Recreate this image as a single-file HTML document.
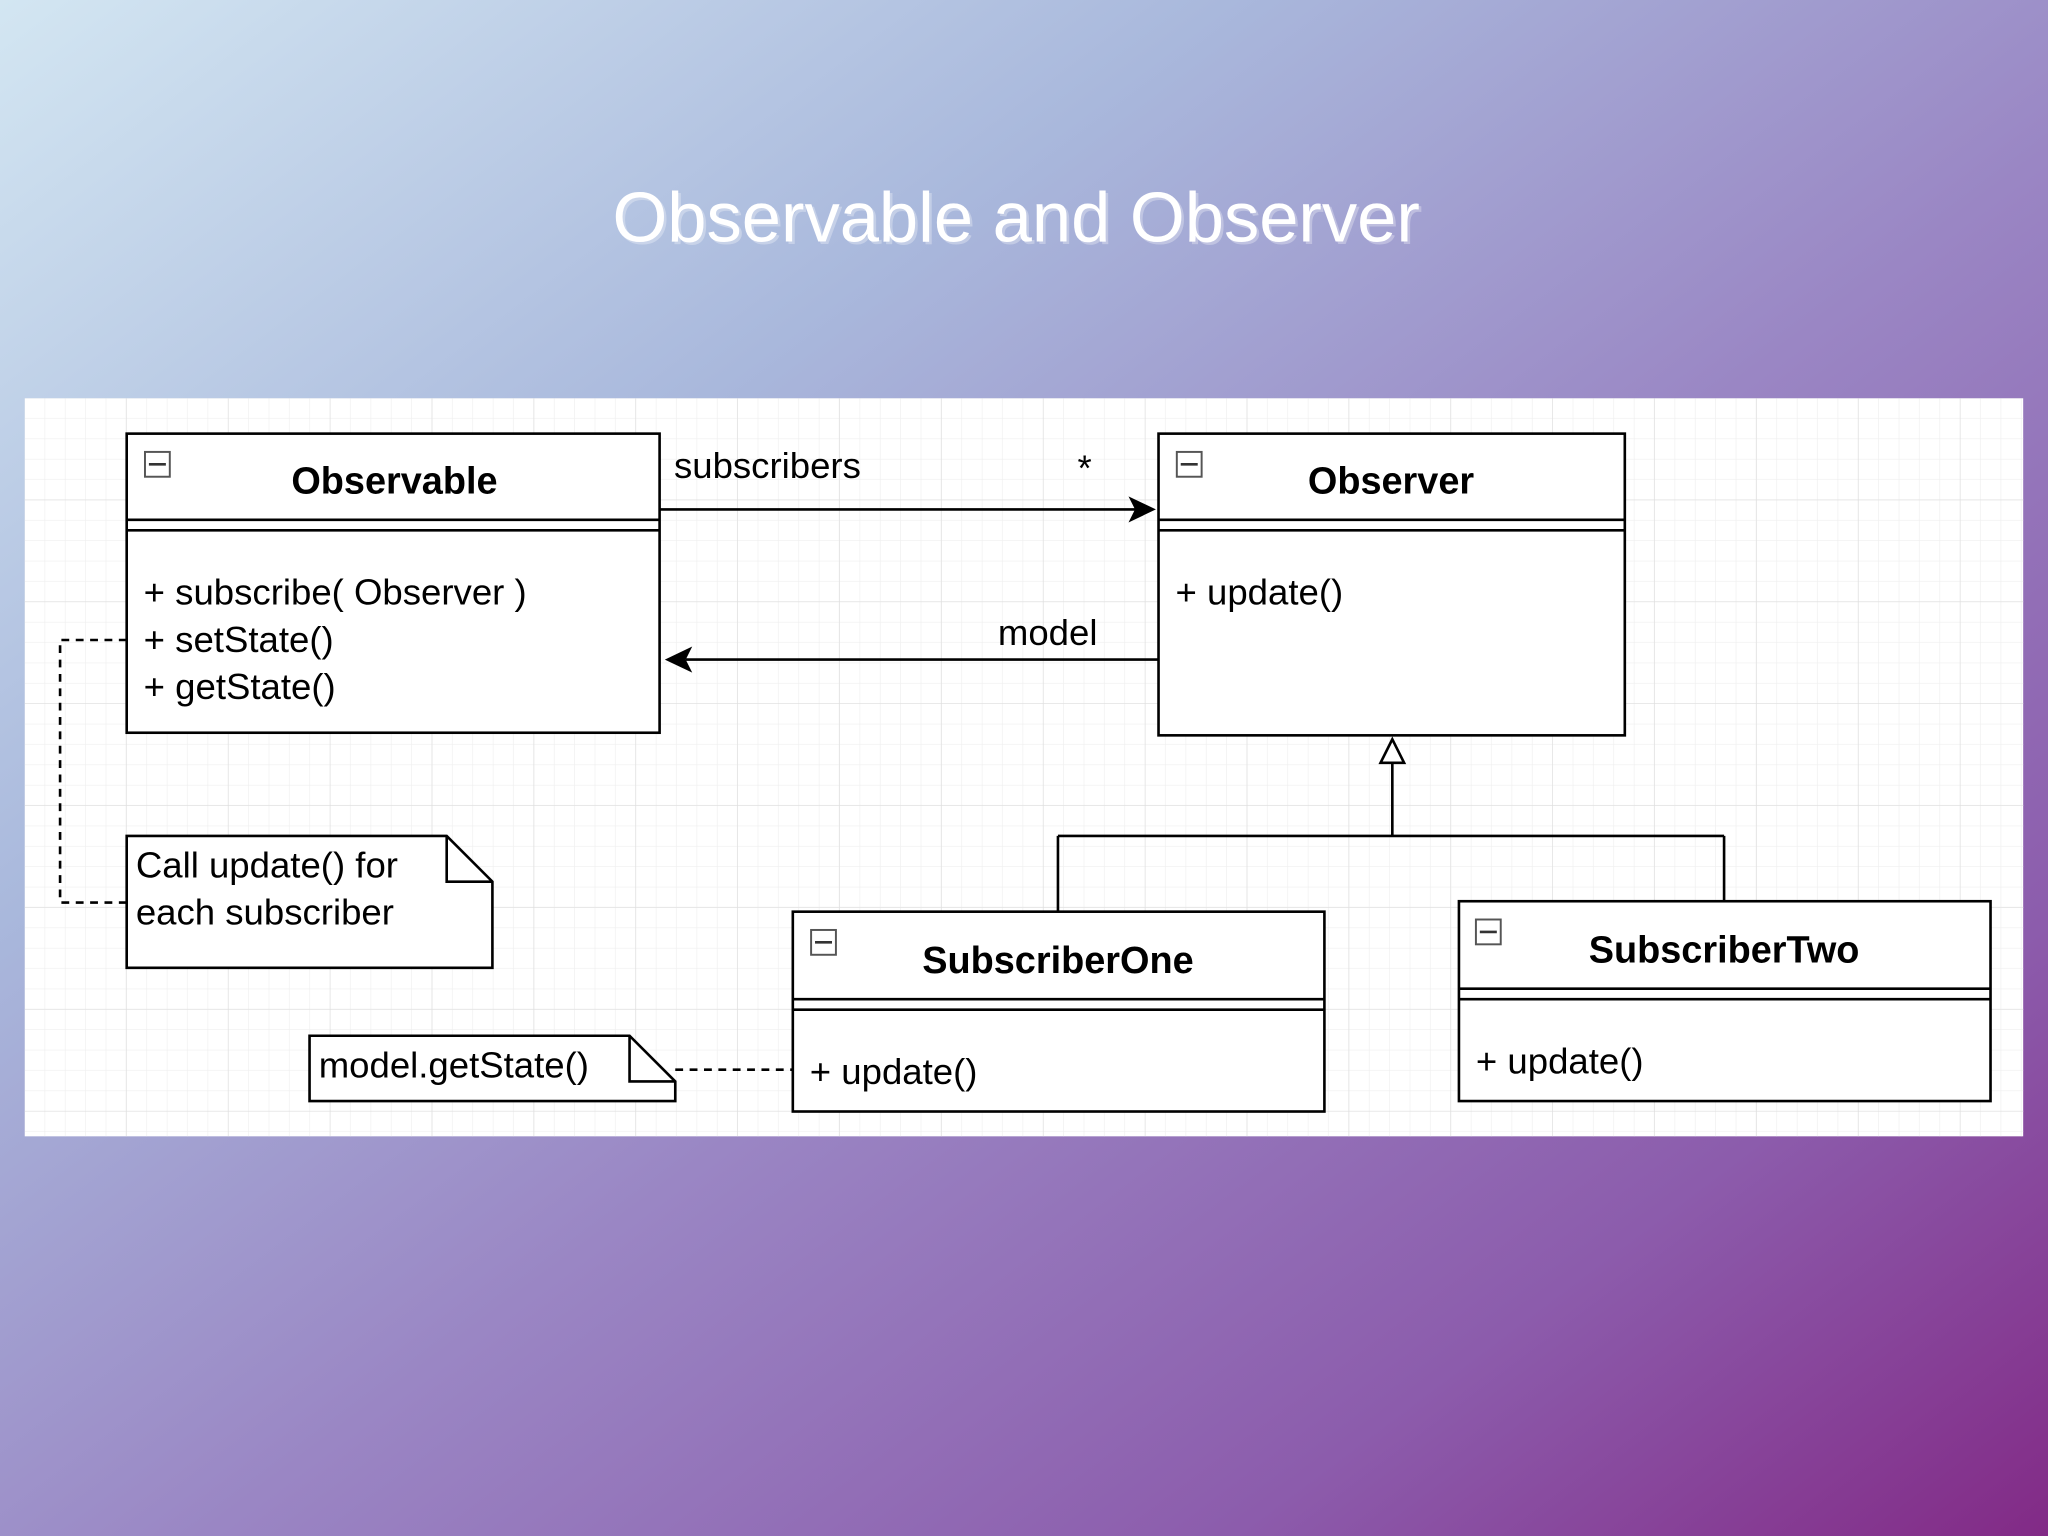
<!DOCTYPE html>
<html><head><meta charset="utf-8"><style>
html,body{margin:0;padding:0;width:2048px;height:1536px;overflow:hidden}
svg{display:block}
text{font-family:"Liberation Sans",Arial,sans-serif;fill:#000}
</style></head><body>
<svg width="2048" height="1536" viewBox="0 0 1568 1176" xmlns="http://www.w3.org/2000/svg">
<defs>
<linearGradient id="bg" x1="0" y1="0" x2="1" y2="1">
<stop offset="0" stop-color="#d3e6f2"/>
<stop offset="0.3" stop-color="#a9b8dc"/>
<stop offset="0.55" stop-color="#9a86c4"/>
<stop offset="0.8" stop-color="#8c5cac"/>
<stop offset="1" stop-color="#822a86"/>
</linearGradient>
<pattern id="gmin" width="15.6" height="15.6" patternUnits="userSpaceOnUse" x="19" y="305">
<path d="M15.6 0V15.6H0" fill="none" stroke="#efefef" stroke-width="1"/>
</pattern>
<pattern id="gmaj" width="78" height="78" patternUnits="userSpaceOnUse" x="19" y="305">
<path d="M78 0V78H0" fill="none" stroke="#dedede" stroke-width="1"/>
</pattern>
</defs>
<rect width="1568" height="1176" fill="url(#bg)"/>
<text x="778" y="185" text-anchor="middle" font-size="54" style="fill:#fff" opacity="0.3" transform="translate(2,2)">Observable and Observer</text>
<text x="778" y="185" text-anchor="middle" font-size="54" style="fill:#fff">Observable and Observer</text>
<rect x="19" y="305" width="1530" height="565" fill="#fff"/>
<rect x="19" y="305" width="1530" height="565" fill="url(#gmin)"/>
<rect x="19" y="305" width="1530" height="565" fill="url(#gmaj)"/>
<g fill="#fff" stroke="#000" stroke-width="2">
<rect x="97" y="332" width="408" height="229"/>
<rect x="887" y="332" width="357" height="231"/>
<rect x="607" y="698" width="407" height="153"/>
<rect x="1117" y="690" width="407" height="153"/>
<path d="M97 640H342L377 675V741H97Z"/>
<path d="M342 640V675H377" fill="none"/>
<path d="M237 793H482L517 828V843H237Z"/>
<path d="M482 793V828H517" fill="none"/>
</g>
<g stroke="#000" stroke-width="2" fill="none">
<path d="M97 398H505M97 406H505"/>
<path d="M887 398H1244M887 406H1244"/>
<path d="M607 765H1014M607 773H1014"/>
<path d="M1117 757H1524M1117 765H1524"/>
<path d="M505 390H870"/>
<path d="M887 505H525"/>
<path d="M1066 584V640M810 640H1320M810 640V698M1320 640V690"/>
<path d="M97 490H46V691H97" stroke-dasharray="6,5"/>
<path d="M517 819H607" stroke-dasharray="6,5"/>
</g>
<path d="M885 390L864 380L869 390L864 400Z" fill="#000"/>
<path d="M509 505L530 495L525 505L530 515Z" fill="#000"/>
<path d="M1066 566L1057 584H1075Z" fill="#fff" stroke="#000" stroke-width="2"/>
<g fill="#fff" stroke="#555" stroke-width="1.5">
<rect x="111" y="346" width="19" height="19"/><rect x="901" y="346" width="19" height="19"/>
<rect x="621" y="712" width="19" height="19"/><rect x="1130" y="704" width="19" height="19"/>
</g>
<g stroke="#333" stroke-width="2"><path d="M114 355.5H127M904 355.5H917M624 721.5H637M1133 713.5H1146"/></g>
<g font-size="29" font-weight="bold" text-anchor="middle">
<text x="302" y="378">Observable</text>
<text x="1065" y="378">Observer</text>
<text x="810" y="745">SubscriberOne</text>
<text x="1320" y="737">SubscriberTwo</text>
</g>
<g font-size="28">
<text x="110" y="463">+ subscribe( Observer )</text>
<text x="110" y="499">+ setState()</text>
<text x="110" y="535">+ getState()</text>
<text x="900" y="463">+ update()</text>
<text x="620" y="830">+ update()</text>
<text x="1130" y="822">+ update()</text>
<text x="516" y="366">subscribers</text>
<text x="825" y="368">*</text>
<text x="764" y="494">model</text>
<text x="104" y="672">Call update() for</text>
<text x="104" y="708">each subscriber</text>
<text x="244" y="825">model.getState()</text>
</g>
</svg>
</body></html>
